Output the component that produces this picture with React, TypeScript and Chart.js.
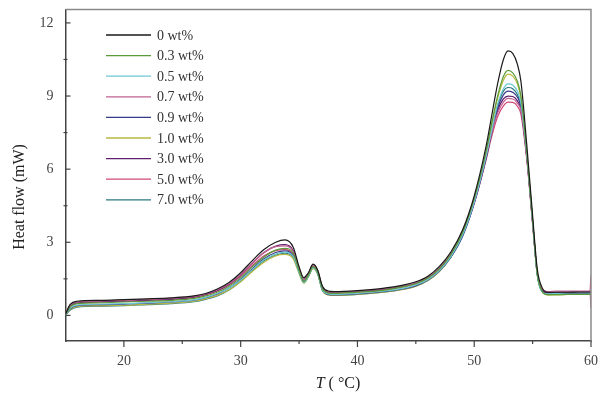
import React, { useEffect, useRef } from 'react';
import { Chart, registerables } from 'chart.js';

Chart.register(...registerables);

const temperatures = [15, 15.4, 16, 18, 20, 22, 24, 26, 27, 28, 29, 30, 31, 32, 33, 33.8, 34.5, 35, 35.4, 35.8, 36.2, 36.6, 37, 37.5, 38, 40, 42, 44, 45, 46, 47, 48, 49, 50, 51, 51.5, 52, 52.5, 52.9, 53.3, 53.7, 54, 54.5, 55, 55.4, 55.8, 56.3, 57, 58, 59, 59.9, 60];

const seriesLabels = ['0 wt%', '0.3 wt%', '0.5 wt%', '0.7 wt%', '0.9 wt%', '1.0 wt%', '3.0 wt%', '5.0 wt%', '7.0 wt%'];
const seriesColors = ['#1a1a1a', '#5a9a3a', '#6cc8d0', '#c06090', '#3a3a8a', '#b8b840', '#602070', '#d04878', '#2a7a80'];

const s0 = [0.05, 0.45, 0.58, 0.62, 0.65, 0.68, 0.72, 0.80, 0.90, 1.08, 1.35, 1.75, 2.25, 2.70, 3.00, 3.10, 2.80, 2.00, 1.55, 1.75, 2.10, 1.85, 1.20, 1.00, 0.98, 1.02, 1.10, 1.25, 1.38, 1.60, 2.00, 2.60, 3.50, 4.90, 6.90, 8.20, 9.50, 10.50, 10.85, 10.75, 10.30, 9.60, 7.00, 4.10, 1.90, 1.15, 0.95, 0.95, 0.95, 0.96, 0.96, 0.96];
const s1 = [0.02, 0.35, 0.48, 0.52, 0.55, 0.58, 0.62, 0.70, 0.80, 0.95, 1.20, 1.55, 2.00, 2.40, 2.68, 2.75, 2.55, 1.85, 1.40, 1.65, 2.00, 1.75, 1.10, 0.92, 0.90, 0.95, 1.02, 1.18, 1.30, 1.52, 1.90, 2.50, 3.40, 4.80, 6.70, 7.90, 9.00, 9.80, 10.05, 9.95, 9.60, 9.00, 6.70, 3.90, 1.70, 1.00, 0.85, 0.85, 0.86, 0.86, 0.86, 0.86];
const s2 = [0.00, 0.30, 0.42, 0.46, 0.48, 0.52, 0.56, 0.64, 0.74, 0.90, 1.12, 1.45, 1.88, 2.28, 2.52, 2.60, 2.42, 1.78, 1.35, 1.60, 1.95, 1.70, 1.05, 0.88, 0.86, 0.90, 0.98, 1.12, 1.25, 1.46, 1.84, 2.42, 3.30, 4.65, 6.50, 7.60, 8.65, 9.30, 9.50, 9.45, 9.20, 8.70, 6.60, 3.85, 1.65, 0.98, 0.88, 0.90, 0.92, 0.92, 0.92, 0.92];
const s3 = [0.08, 0.42, 0.55, 0.60, 0.62, 0.66, 0.70, 0.78, 0.88, 1.05, 1.30, 1.68, 2.15, 2.58, 2.82, 2.85, 2.62, 1.90, 1.45, 1.70, 2.05, 1.80, 1.15, 0.98, 0.96, 1.00, 1.08, 1.22, 1.35, 1.56, 1.95, 2.55, 3.40, 4.70, 6.50, 7.50, 8.30, 8.75, 8.90, 8.88, 8.70, 8.40, 6.50, 3.80, 1.75, 1.10, 0.98, 1.00, 1.00, 1.00, 1.00, 0.30];
const s4 = [0.00, 0.28, 0.40, 0.44, 0.46, 0.50, 0.55, 0.63, 0.73, 0.88, 1.12, 1.48, 1.92, 2.32, 2.58, 2.65, 2.45, 1.80, 1.38, 1.62, 1.98, 1.72, 1.05, 0.86, 0.84, 0.88, 0.96, 1.10, 1.22, 1.44, 1.82, 2.40, 3.25, 4.60, 6.40, 7.50, 8.50, 9.05, 9.20, 9.15, 8.95, 8.55, 6.55, 3.85, 1.68, 1.00, 0.88, 0.88, 0.90, 0.90, 0.90, 0.90];
const s5 = [0.00, 0.25, 0.36, 0.40, 0.42, 0.46, 0.50, 0.58, 0.68, 0.82, 1.05, 1.38, 1.80, 2.18, 2.44, 2.50, 2.32, 1.72, 1.32, 1.58, 1.92, 1.68, 1.02, 0.84, 0.82, 0.86, 0.94, 1.08, 1.20, 1.42, 1.80, 2.40, 3.30, 4.70, 6.60, 7.80, 8.90, 9.65, 9.90, 9.82, 9.50, 8.90, 6.65, 3.90, 1.68, 0.98, 0.84, 0.84, 0.86, 0.86, 0.86, 0.86];
const s6 = [0.06, 0.40, 0.52, 0.56, 0.58, 0.62, 0.66, 0.75, 0.86, 1.02, 1.28, 1.66, 2.14, 2.58, 2.84, 2.90, 2.66, 1.92, 1.48, 1.72, 2.08, 1.82, 1.16, 0.96, 0.94, 0.98, 1.06, 1.20, 1.33, 1.54, 1.93, 2.52, 3.38, 4.68, 6.50, 7.55, 8.40, 8.88, 9.00, 8.98, 8.80, 8.45, 6.50, 3.80, 1.72, 1.05, 0.94, 0.95, 0.96, 0.96, 0.96, 0.96];
const s7 = [0.04, 0.38, 0.50, 0.55, 0.58, 0.62, 0.66, 0.74, 0.84, 1.00, 1.25, 1.60, 2.05, 2.45, 2.66, 2.70, 2.50, 1.85, 1.42, 1.66, 2.02, 1.78, 1.12, 0.94, 0.92, 0.96, 1.04, 1.18, 1.31, 1.52, 1.90, 2.48, 3.32, 4.60, 6.35, 7.35, 8.15, 8.60, 8.75, 8.74, 8.58, 8.25, 6.40, 3.75, 1.70, 1.05, 0.92, 0.92, 0.93, 0.93, 0.93, 1.65];
const s8 = [0.00, 0.22, 0.34, 0.38, 0.40, 0.44, 0.48, 0.56, 0.66, 0.80, 1.04, 1.40, 1.84, 2.24, 2.48, 2.55, 2.38, 1.76, 1.34, 1.60, 1.94, 1.70, 1.02, 0.85, 0.82, 0.86, 0.94, 1.08, 1.20, 1.42, 1.80, 2.38, 3.25, 4.62, 6.48, 7.55, 8.60, 9.20, 9.35, 9.30, 9.05, 8.60, 6.55, 3.85, 1.66, 0.98, 0.85, 0.86, 0.88, 0.88, 0.88, 0.88];

const seriesValues = [s0, s1, s2, s3, s4, s5, s6, s7, s8];

const xTicks = [20, 30, 40, 50, 60];
const xMinorTicks = [25, 35, 45, 55];
const yTicks = [0, 3, 6, 9, 12];
const yMinorTicks = [1.5, 4.5, 7.5, 10.5];
const yTitle = 'Heat flow (mW)';
const xTitleItalic = 'T';
const xTitleRest = ' ( °C)';

const FONT = '"Liberation Serif", "Times New Roman", serif';

const decorPlugin = {
  id: 'decor',
  afterDraw(chart: any) {
    const { ctx, chartArea: a, scales } = chart;
    const x = scales.x;
    const y = scales.y;
    ctx.save();
    // top / right frame
    ctx.strokeStyle = '#8a8a8a';
    ctx.lineWidth = 1.5;
    ctx.beginPath();
    ctx.moveTo(a.left, a.top);
    ctx.lineTo(a.right, a.top);
    ctx.lineTo(a.right, a.bottom);
    ctx.stroke();
    // ticks
    ctx.strokeStyle = '#444';
    ctx.lineWidth = 1.2;
    const seg = (x1: number, y1: number, x2: number, y2: number) => {
      ctx.beginPath();
      ctx.moveTo(x1, y1);
      ctx.lineTo(x2, y2);
      ctx.stroke();
    };
    for (const v of yTicks) {
      const py = y.getPixelForValue(v);
      seg(a.left, py, a.left + 5, py);
    }
    for (const v of yMinorTicks) {
      const py = y.getPixelForValue(v);
      seg(a.left - 2, py, a.left + 2, py);
    }
    for (const v of xTicks) {
      const px = x.getPixelForValue(v);
      seg(px, a.bottom, px, a.bottom + 6);
    }
    for (const v of xMinorTicks) {
      const px = x.getPixelForValue(v);
      seg(px, a.bottom, px, a.bottom + 3);
    }
    // y title
    ctx.fillStyle = '#222';
    ctx.font = `16px ${FONT}`;
    ctx.textAlign = 'center';
    ctx.textBaseline = 'middle';
    ctx.save();
    ctx.translate(20, 197);
    ctx.rotate(-Math.PI / 2);
    ctx.fillText(yTitle, 0, 0);
    ctx.restore();
    // x title
    ctx.textAlign = 'left';
    ctx.font = `italic 16px ${FONT}`;
    const wT = ctx.measureText(xTitleItalic).width;
    ctx.font = `16px ${FONT}`;
    const wR = ctx.measureText(xTitleRest).width;
    const startX = 338 - (wT + wR) / 2;
    ctx.font = `italic 16px ${FONT}`;
    ctx.fillText(xTitleItalic, startX, 384);
    ctx.font = `16px ${FONT}`;
    ctx.fillText(xTitleRest, startX + wT, 384);
    // legend
    const rows = chart.data.datasets;
    ctx.font = `14px ${FONT}`;
    ctx.textBaseline = 'middle';
    rows.forEach((ds: any, i: number) => {
      const ry = 35 + i * 20.6;
      ctx.strokeStyle = ds.borderColor;
      ctx.lineWidth = 1.3;
      seg(106, ry, 151, ry);
      ctx.fillStyle = '#333';
      ctx.fillText(ds.label, 157, ry + 1);
    });
    ctx.restore();
  },
};

export default function App() {
  const ref = useRef<HTMLCanvasElement | null>(null);
  useEffect(() => {
    if (!ref.current) return;
    Chart.defaults.font.family = FONT;
    const chart = new Chart(ref.current, {
      type: 'line',
      data: {
        datasets: seriesLabels.map((label, i) => ({
          label,
          data: temperatures.map((t, j) => ({ x: t, y: seriesValues[i][j] })),
          borderColor: seriesColors[i],
          backgroundColor: seriesColors[i],
          borderWidth: 1.2,
          pointRadius: 0,
          fill: false,
          cubicInterpolationMode: 'monotone' as const,
        })),
      },
      options: {
        responsive: false,
        animation: false,
        layout: { padding: { top: 9.5, right: 9, left: 0, bottom: 0 } },
        plugins: {
          legend: { display: false },
          tooltip: { enabled: false },
        },
        scales: {
          x: {
            type: 'linear',
            min: 15,
            max: 60,
            grid: { display: false, drawTicks: false },
            border: { display: true, color: '#444', width: 1.5 },
            ticks: { padding: 12, font: { size: 14, family: FONT }, color: '#444', autoSkip: false, maxRotation: 0 },
            afterBuildTicks: (s: any) => {
              s.ticks = xTicks.map((v) => ({ value: v }));
            },
            afterFit: (s: any) => {
              s.height = 55;
              s.paddingLeft = 0;
              s.paddingRight = 0;
            },
          },
          y: {
            type: 'linear',
            min: -1.05,
            max: 12.55,
            grid: { display: false, drawTicks: false },
            border: { display: true, color: '#444', width: 1.5 },
            ticks: { padding: 12, font: { size: 14, family: FONT }, color: '#444', autoSkip: false },
            afterBuildTicks: (s: any) => {
              s.ticks = yTicks.map((v) => ({ value: v }));
            },
            afterFit: (s: any) => {
              s.width = 65.5;
              s.paddingTop = 0;
              s.paddingBottom = 0;
            },
          },
        },
      },
      plugins: [decorPlugin],
    });
    return () => chart.destroy();
  }, []);
  return (
    <div style={{ position: 'absolute', left: 0, top: 0, width: 600, height: 396, background: '#fff' }}>
      <canvas ref={ref} width={600} height={396} />
    </div>
  );
}
